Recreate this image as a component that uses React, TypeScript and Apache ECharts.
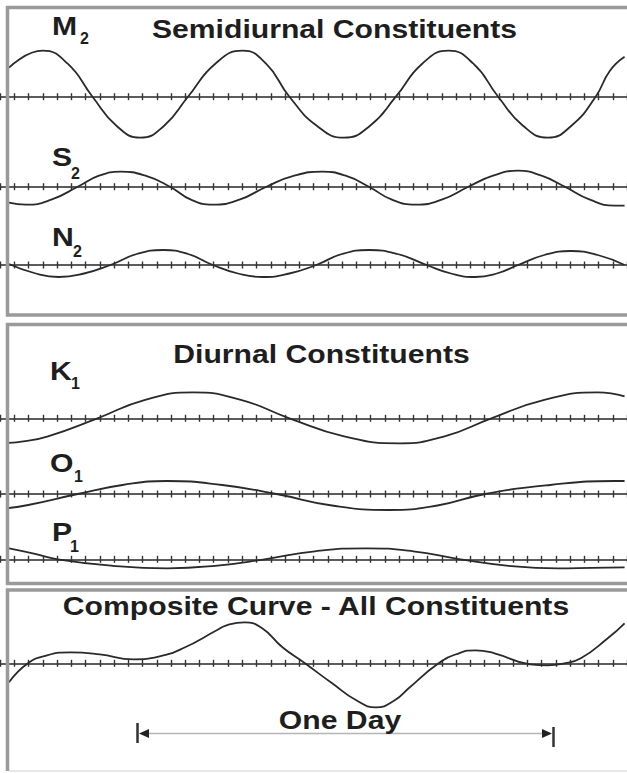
import React, { useEffect, useRef } from "react";
import * as echarts from "echarts";

// ---- Text content ----
const constituentLetters = ["M", "S", "N", "K", "O", "P"];
const constituentSubscripts = ["2", "2", "2", "1", "1", "1"];
const panelTitles = [
  "Semidiurnal Constituents",
  "Diurnal Constituents",
  "Composite Curve - All Constituents",
];
const spanLabel = "One Day";

// ---- Data: positions along the time axis (hour ticks) and heights ----
const m2Hours = [-0.37, 2.0, 3.75, 5.49, 7.17, 8.84, 10.52, 12.19, 14.11, 16.03, 17.67, 19.31, 21.23, 23.15, 24.97, 26.78, 28.63, 30.48, 32.22, 33.96, 35.7, 37.45, 39.1, 40.8, 41.8, 42.83];
const m2Heights = [29, 46, 33, 0, -29, -41, -29, 0, 33, 46, 33, 0, -29, -41, -29, 0, 33, 46, 33, 0, -29, -41, -29, 0, 26, 40];

const s2Hours = [-0.37, 0.82, 2.6, 4.45, 5.95, 7.45, 9.2, 10.93, 12.4, 13.94, 15.8, 17.7, 19.65, 21.61, 23.25, 24.89, 26.5, 28.17, 30.0, 31.87, 33.6, 35.36, 37.0, 38.64, 40.4, 42.13, 42.83];
const s2Heights = [-16, -18, -13, 0, 11, 15, 11, 0, -13, -18, -13, 0, 11, 15, 11, 0, -13, -18, -13, 0, 11, 16, 11, 0, -13, -19, -19];

const n2Hours = [-0.37, 1.4, 3.12, 4.9, 6.75, 8.6, 10.45, 12.2, 13.94, 15.7, 17.42, 19.3, 21.19, 23.0, 24.89, 26.9, 28.94, 30.65, 32.36, 33.86, 35.36, 37.2, 39.06, 40.95, 42.83];
const n2Heights = [1, -8, -12, -8.5, 0, 11, 15, 11, 0, -8.5, -12, -8.5, 0, 11, 15, 11, 0, -8.5, -12, -8.5, 0, 10, 14, 10, 0];

const k1Hours = [-0.37, 0.64, 2.37, 5.84, 9.19, 12.54, 15.9, 19.31, 23.15, 26.99, 30.2, 33.48, 37.2, 40.94, 42.83];
const k1Heights = [-24.5, -23, -18, 0, 18.5, 26, 18.5, 0, -18, -25, -18, 0, 18.5, 26, 22];

const o1Hours = [-0.37, 0.98, 4.45, 7.6, 10.73, 14.6, 18.4, 22.3, 26.29, 29.7, 33.06, 37.6, 42.13, 42.83];
const o1Heights = [-14, -11, 0, 9, 13, 9, 0, -11.5, -16, -11.5, 0, 9, 13, 13];

const p1Hours = [-0.37, 1.3, 3.05, 6.9, 10.73, 14.1, 17.56, 21.1, 24.68, 28.0, 31.31, 34.7, 38.15, 40.5, 42.83];
const p1Heights = [11, 6, 0, -6.5, -9, -6.5, 0, 8, 11, 8, 0, -6.5, -9, -8.5, -8];

const compositeHours = [-0.37, 0.96, 2.3, 3.96, 6.0, 8.36, 10.2, 11.84, 14.21, 14.9, 16.17, 17.4, 18.82, 20.4, 22.31, 24.0, 25.38, 26.7, 27.68, 29.78, 31.2, 32.36, 33.7, 36.2, 37.45, 38.6, 39.76, 41.65, 42.83];
const compositeHeights = [-19, 0, 8, 11, 9, 4, 7, 15, 33, 38, 41, 35, 16, 0, -20, -37, -44, -37, -25, 0, 10, 13, 10, -1, -2, 0, 5, 25, 40];

const curveHours = [m2Hours, s2Hours, n2Hours, k1Hours, o1Hours, p1Hours, compositeHours];
const curveHeights = [m2Heights, s2Heights, n2Heights, k1Heights, o1Heights, p1Heights, compositeHeights];

// axis range (hour ticks)
const hourMin = -1;
const hourMax = 43;

// ---- Layout (pixels) ----
const W = 627;
const H = 773;
const AXIS_Y = [96.7, 186.7, 265, 418.3, 494, 559.3, 663.3];
const HALF = 55;
const LETTER_POS = [
  [52, 26, 80, 38],
  [52, 157.5, 71, 173],
  [52, 237, 73, 251],
  [50, 371, 71, 383],
  [50, 463, 74, 476],
  [52, 532, 70, 546],
];
const TITLE_POS = [
  [334.5, 29.5],
  [321.5, 354],
  [316, 606.5],
];
const SX = 1.16;
const FONT = '"Liberation Sans", Arial, sans-serif';

export default function App() {
  const ref = useRef<HTMLDivElement>(null);

  useEffect(() => {
    if (!ref.current) return;
    const chart = echarts.init(ref.current, undefined, { renderer: "svg" });

    const grids: any[] = [];
    const xAxes: any[] = [];
    const yAxes: any[] = [];
    const series: any[] = [];

    AXIS_Y.forEach((ay, i) => {
      grids.push({ left: -1, right: -3, top: ay - HALF, height: HALF * 2 });
      ["bottom", "top"].forEach((pos) => {
        xAxes.push({
          type: "value",
          gridIndex: i,
          min: hourMin,
          max: hourMax,
          interval: 1,
          position: pos,
          axisLine: {
            show: true,
            onZero: true,
            onZeroAxisIndex: i,
            lineStyle: { color: "#5c5c5c", width: 2 },
          },
          axisTick: { show: true, inside: false, length: 3.5, lineStyle: { color: "#333", width: 1.4 } },
          axisLabel: { show: false },
          splitLine: { show: false },
        });
      });
      yAxes.push({ type: "value", gridIndex: i, min: -HALF, max: HALF, show: false });
      series.push({
        type: "line",
        xAxisIndex: 2 * i,
        yAxisIndex: i,
        data: curveHours[i].map((h, k) => [h, curveHeights[i][k]]),
        smooth: true,
        symbol: "none",
        silent: true,
        clip: true,
        z: 3,
        lineStyle: { color: "#2a2a2a", width: 1.8 },
      });
    });

    const graphics: any[] = [];
    const border = "#9a9a9a";
    const panels = [
      [7.5, 315],
      [324.5, 583.5],
    ];
    panels.forEach(([t, b]) => {
      graphics.push({
        type: "polyline",
        z: 10,
        shape: { points: [[650, t], [7.5, t], [7.5, b], [650, b]] },
        style: { stroke: border, lineWidth: 3.5, fill: null },
      });
    });
    graphics.push({
      type: "polyline",
      z: 10,
      shape: { points: [[650, 590], [7.5, 590], [7.5, 771]] },
      style: { stroke: border, lineWidth: 3.5, fill: null },
    });
    graphics.push({
      type: "line",
      z: 10,
      shape: { x1: 9, y1: 771, x2: 650, y2: 771 },
      style: { stroke: "#d0d0d0", lineWidth: 1 },
    });

    const textStyle = (text: string, size: number, align: string) => ({
      text,
      x: 0,
      y: 0,
      fill: "#1e1e1e",
      font: `bold ${size}px ${FONT}`,
      align,
      verticalAlign: "middle",
      textAlign: align,
      textVerticalAlign: "middle",
    });

    panelTitles.forEach((t, i) => {
      graphics.push({
        type: "text",
        z: 11,
        x: TITLE_POS[i][0],
        y: TITLE_POS[i][1],
        scaleX: SX,
        style: textStyle(t, 26, "center"),
      });
    });

    constituentLetters.forEach((l, i) => {
      const [lx, ly, sx, sy] = LETTER_POS[i];
      graphics.push({ type: "text", z: 11, x: lx, y: ly, scaleX: SX, style: textStyle(l, 26, "left") });
      graphics.push({ type: "text", z: 11, x: sx, y: sy, style: textStyle(constituentSubscripts[i], 16, "left") });
    });

    graphics.push({ type: "text", z: 11, x: 340, y: 720, scaleX: SX, style: textStyle(spanLabel, 26, "center") });
    graphics.push({
      type: "line",
      z: 10,
      shape: { x1: 146, y1: 733.5, x2: 546, y2: 733.5 },
      style: { stroke: "#b5b5b5", lineWidth: 1.5 },
    });
    graphics.push({
      type: "line",
      z: 10,
      shape: { x1: 137.5, y1: 723, x2: 137.5, y2: 743 },
      style: { stroke: "#333", lineWidth: 2.5 },
    });
    graphics.push({
      type: "polygon",
      z: 10,
      shape: { points: [[139, 733.5], [149, 729], [149, 738]] },
      style: { fill: "#222" },
    });
    graphics.push({
      type: "line",
      z: 10,
      shape: { x1: 553.5, y1: 727, x2: 553.5, y2: 747 },
      style: { stroke: "#333", lineWidth: 2.5 },
    });
    graphics.push({
      type: "polygon",
      z: 10,
      shape: { points: [[552, 733.5], [542, 729], [542, 738]] },
      style: { fill: "#222" },
    });

    chart.setOption({
      animation: false,
      backgroundColor: "#ffffff",
      grid: grids,
      xAxis: xAxes,
      yAxis: yAxes,
      series,
      graphic: graphics,
    });

    return () => chart.dispose();
  }, []);

  return (
    <div
      ref={ref}
      style={{ position: "absolute", left: 0, top: 0, width: W, height: H, background: "#fff" }}
    />
  );
}
